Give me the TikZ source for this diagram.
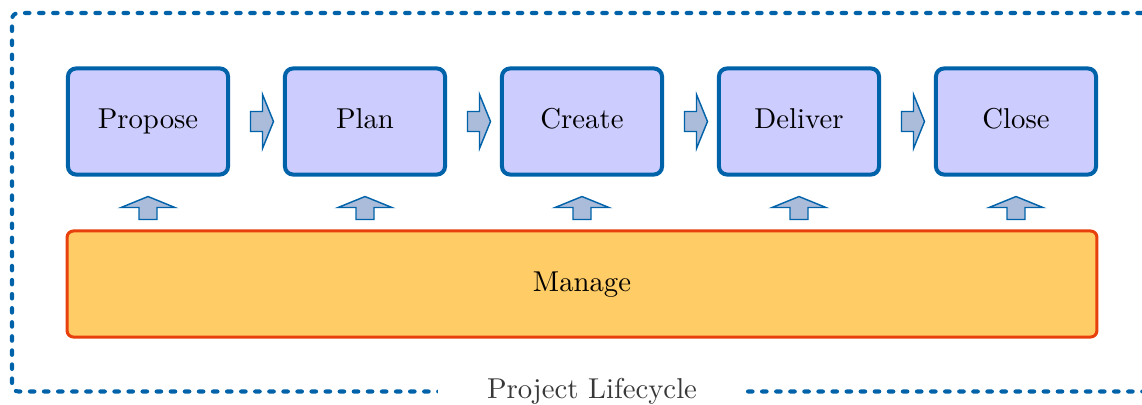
\documentclass[tikz,border=0pt]{standalone}
\usetikzlibrary{calc}
\definecolor{boxblue}{RGB}{0,99,170}
\definecolor{boxfill}{RGB}{204,204,255}
\definecolor{arrfill}{RGB}{170,188,217}
\definecolor{mgfill}{RGB}{255,204,102}
\definecolor{mgline}{RGB}{232,64,12}
\definecolor{lblgray}{RGB}{56,56,56}
\tikzset{
  phase/.style={draw=boxblue, fill=boxfill, line width=1.4pt, rounded corners=2.8pt,
    minimum width=55.7pt, minimum height=36.9pt, inner sep=0pt,
    text height=1.6ex, text depth=0.4ex},
  managebox/.style={draw=mgline, fill=mgfill, line width=1.05pt, rounded corners=2.2pt,
    minimum width=358.4pt, minimum height=36.9pt, inner sep=0pt,
    text height=1.6ex, text depth=0.4ex},
  blockarrow/.style={draw=boxblue, fill=arrfill, line width=0.5pt, line join=miter},
  frame/.style={draw=boxblue, line width=1.4pt, line cap=round, rounded corners=2.2pt,
    dash pattern=on 1.6pt off 3.3pt},
  framelabel/.style={fill=white, text=lblgray, inner xsep=17pt, inner ysep=2pt}
}
\begin{document}
\begin{tikzpicture}[x=0.348pt, y=-0.348pt]
\useasboundingbox (0,0) rectangle (1142,404);
% frame
\draw[frame] (1170,13) -- (12,13) -- (12,391.5) -- (1170,391.5);
\node[framelabel] (lbl) at (592,391) {Project Lifecycle};
% phases
\node[phase] (p1) at (148,121.5) {Propose};
\node[phase] (p2) at (365,121.5) {Plan};
\node[phase] (p3) at (582,121.5) {Create};
\node[phase] (p4) at (799,121.5) {Deliver};
\node[phase] (p5) at (1016,121.5) {Close};
\node[managebox] (mg) at (582,284) {Manage};
% right arrows
\foreach \a/\b in {p1/p2,p2/p3,p3/p4,p4/p5}{
  \coordinate (m) at ($(\a.east)!0.5!(\b.west)$);
  \draw[blockarrow] (m) ++(-6,-10) -- ++(12,0) -- ++(0,-17) -- ++(11,27)
     -- ++(-11,27) -- ++(0,-17) -- ++(-12,0) -- cycle;
}
% up arrows
\foreach \a in {p1,p2,p3,p4,p5}{
  \draw[blockarrow] (\a.south) ++(0,20) -- ++(27,11) -- ++(-18,0) -- ++(0,12)
     -- ++(-18,0) -- ++(0,-12) -- ++(-18,0) -- cycle;
}
\end{tikzpicture}
\end{document}
